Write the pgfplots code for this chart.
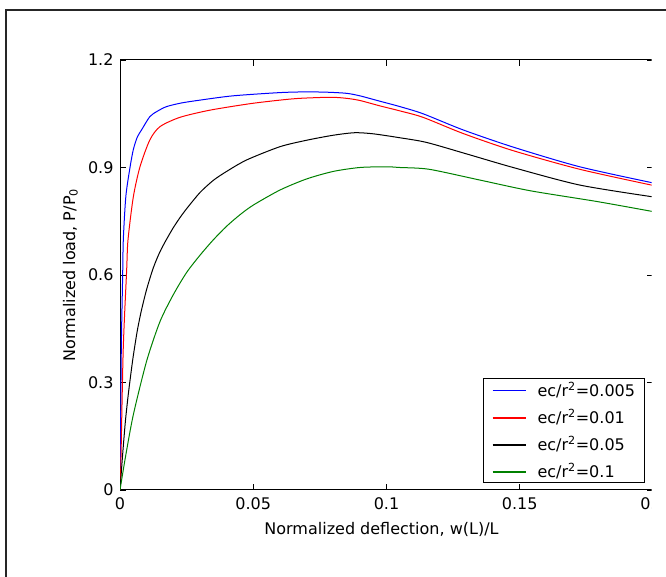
\documentclass[border=0pt]{standalone}
\usepackage{fontspec}
\setmainfont{DejaVu Sans}
\usepackage{pgfplots}
\pgfplotsset{compat=1.18}
\definecolor{mgreen}{RGB}{0,128,0}
\newcommand{\bigf}{\fontsize{16pt}{19pt}\selectfont}
\newcommand{\legline}[1]{\path[draw=none] (0pt,-6pt) rectangle (54pt,6pt); \draw[#1, line width=1.3pt] (9pt,-1pt) -- (42pt,-1pt);}
\begin{document}
\begin{tikzpicture}[font=\bigf]
\useasboundingbox (0,0) rectangle (666pt,577pt);
\begin{scope}
\clip (0,0) rectangle (666pt,577pt);
\draw[line width=2pt, black!85] (6pt,-10pt) -- (6pt,567pt) -- (690pt,567pt);
\end{scope}
\begin{scope}
\clip (0,0) rectangle (651.5pt,577pt);
\begin{axis}[
  at={(120pt,87pt)}, anchor=south west,
  scale only axis, width=533pt, height=430pt,
  xmin=0, xmax=0.2, ymin=0, ymax=1.2,
  xtick={0,0.05,0.1,0.15,0.2}, xticklabels={0,0.05,0.1,0.15,0.2},
  ytick={0,0.3,0.6,0.9,1.2}, yticklabels={0,0.3,0.6,0.9,1.2},
  scaled ticks=false,
  /pgf/number format/assume math mode=true,
  tick align=inside, major tick length=6pt,
  tick style={black, line width=0.8pt},
  axis line style={black, line width=1pt},
  every tick label/.append style={font=\bigf},
  every axis label/.append style={font=\bigf},
  xticklabel style={yshift=-4pt},
  yticklabel style={xshift=-3pt},
  xlabel={Normalized deflection, w(L)/L},
  ylabel={Normalized load, P/P\textsubscript{0}},
  xlabel style={at={(axis description cs:0.4906,-0.074)}, anchor=north, inner sep=0pt},
  ylabel style={at={(axis description cs:-0.0788,0.5)}, anchor=south, inner sep=0pt},
  legend cell align=left,
  legend style={at={(1,0)}, anchor=south east, xshift=-8pt, yshift=7pt, font=\bigf,
    draw=black, line width=0.8pt, inner xsep=0pt, inner ysep=1.5pt,
    row sep=7pt, column sep=0pt,
    nodes={inner xsep=0pt, inner ysep=2pt}},
  every axis plot/.append style={line width=1pt, smooth, tension=0.45},
]
\addplot[blue, legend image code/.code={\legline{blue}}] coordinates {
(0,0) (0.0002,0.15) (0.0005,0.40) (0.001,0.60) (0.00125,0.70) (0.0022,0.82) (0.00375,0.90) (0.005,0.95) (0.0065,0.985) (0.0081,1.005) (0.0112,1.042) (0.014,1.057) (0.0175,1.070) (0.023,1.080) (0.03,1.088) (0.0424,1.100) (0.06,1.109) (0.07,1.111) (0.078,1.110) (0.085,1.107) (0.09,1.100) (0.0975,1.085) (0.105,1.070) (0.1137,1.050) (0.1287,1.005) (0.1475,0.957) (0.1725,0.902) (0.2,0.857)
};
\addlegendentry{\makebox[107pt][l]{ec/r\textsuperscript{2}=0.005}}
\addplot[red, legend image code/.code={\legline{red}}] coordinates {
(0,0) (0.0003,0.065) (0.0012,0.39) (0.0025,0.614) (0.003,0.698) (0.005,0.818) (0.0075,0.902) (0.0112,0.977) (0.015,1.014) (0.0225,1.040) (0.03375,1.060) (0.04875,1.078) (0.06,1.088) (0.0675,1.093) (0.079,1.096) (0.085,1.093) (0.09,1.087) (0.0975,1.072) (0.105,1.058) (0.1137,1.040) (0.1287,0.995) (0.1475,0.947) (0.1725,0.895) (0.2,0.850)
};
\addlegendentry{\makebox[107pt][l]{ec/r\textsuperscript{2}=0.01}}
\addplot[black, legend image code/.code={\legline{black}}] coordinates {
(0,0) (0.001,0.10) (0.002,0.19) (0.003,0.26) (0.004,0.32) (0.005,0.375) (0.0065,0.445) (0.008,0.50) (0.01,0.56) (0.0125,0.62) (0.015,0.665) (0.0175,0.700) (0.02,0.732) (0.0225,0.760) (0.025,0.785) (0.03,0.830) (0.035,0.864) (0.04,0.889) (0.0475,0.921) (0.06,0.958) (0.07,0.976) (0.08,0.990) (0.088,0.997) (0.095,0.994) (0.105,0.983) (0.115,0.970) (0.13,0.938) (0.1475,0.900) (0.1725,0.851) (0.2,0.818)
};
\addlegendentry{\makebox[107pt][l]{ec/r\textsuperscript{2}=0.05}}
\addplot[mgreen, legend image code/.code={\legline{mgreen}}] coordinates {
(0,0) (0.002,0.09) (0.005,0.21) (0.01,0.36) (0.015,0.47) (0.02,0.545) (0.025,0.607) (0.03,0.655) (0.035,0.698) (0.04,0.736) (0.045,0.768) (0.05,0.795) (0.06,0.837) (0.07,0.868) (0.08,0.889) (0.09,0.900) (0.1,0.902) (0.105,0.900) (0.116,0.895) (0.135,0.865) (0.154,0.835) (0.179,0.805) (0.2,0.777)
};
\addlegendentry{\makebox[107pt][l]{ec/r\textsuperscript{2}=0.1}}
\end{axis}
\end{scope}
\end{tikzpicture}
\end{document}
